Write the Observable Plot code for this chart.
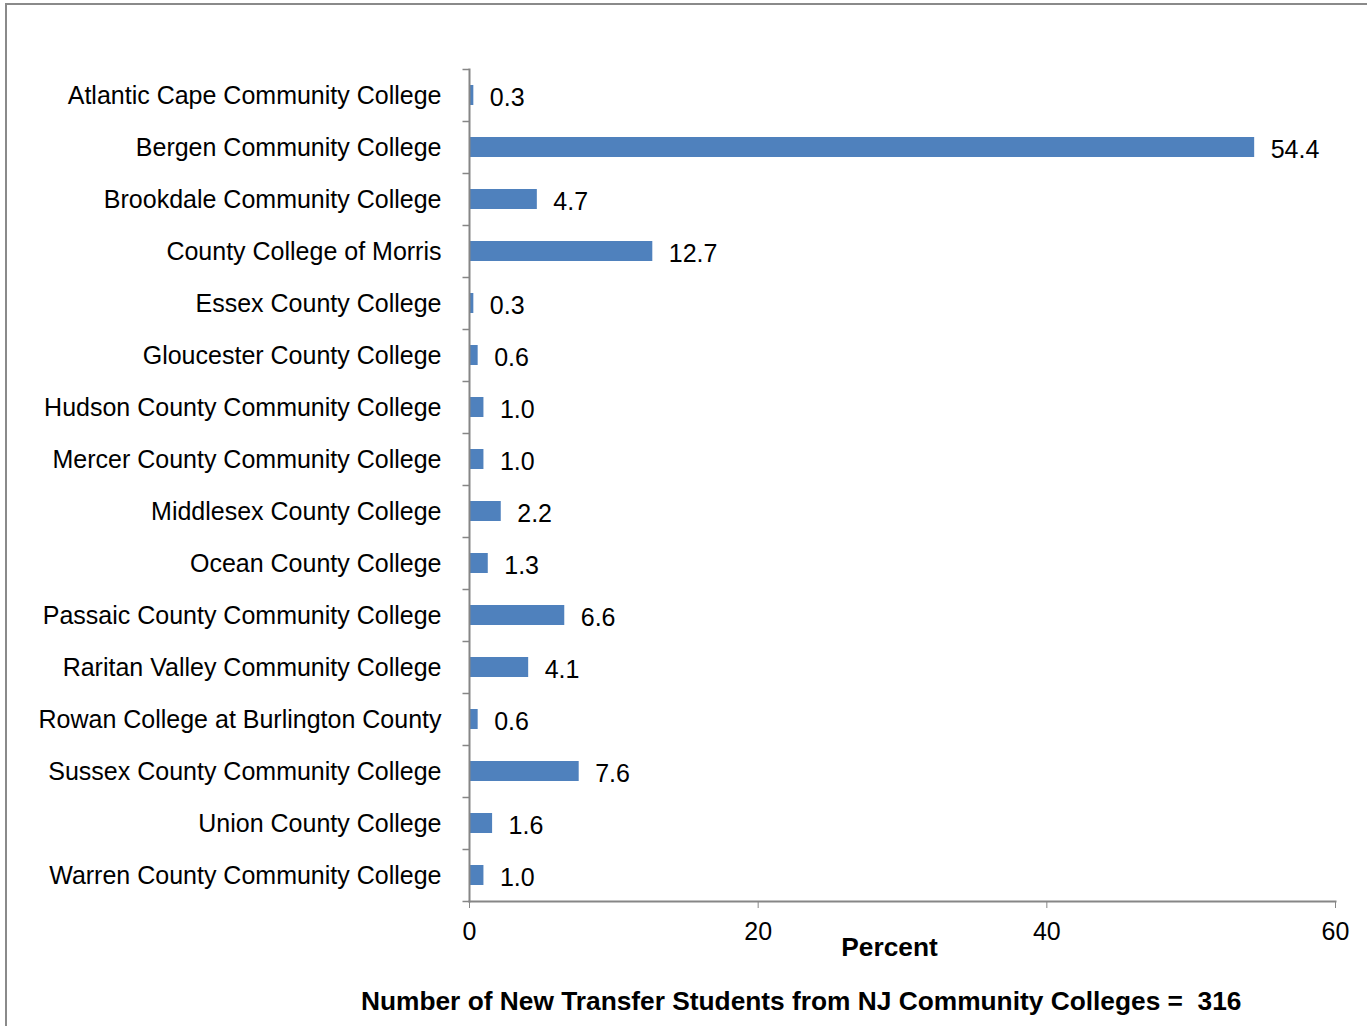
<!DOCTYPE html>
<html>
<head>
<meta charset="utf-8">
<script src="https://cdn.jsdelivr.net/npm/d3@7"></script>
<script src="https://cdn.jsdelivr.net/npm/@observablehq/plot@0.6"></script>
<style>
  html, body { margin: 0; padding: 0; background: #fff; overflow: hidden; width: 1367px; height: 1026px; }
  #frame { position: absolute; left: 5px; top: 3px; width: 1500px; height: 1200px; border-left: 2px solid #8a8a8a; border-top: 2px solid #8a8a8a; }
  #chart { position: absolute; left: 0; top: 0; }
  #caption { position: absolute; left: 0; top: 986px; width: 1367px; padding-left: 361px; box-sizing: border-box; line-height: 30px;
    font-family: "Liberation Sans", Arial, sans-serif; font-weight: bold; font-size: 26.3px; white-space: pre; color: #000; }
</style>
</head>
<body>
<div id="frame"></div>
<div id="chart"></div>
<div id="caption">Number of New Transfer Students from NJ Community Colleges =  316</div>
<script>
const colleges = [
  "Atlantic Cape Community College",
  "Bergen Community College",
  "Brookdale Community College",
  "County College of Morris",
  "Essex County College",
  "Gloucester County College",
  "Hudson County Community College",
  "Mercer County Community College",
  "Middlesex County College",
  "Ocean County College",
  "Passaic County Community College",
  "Raritan Valley Community College",
  "Rowan College at Burlington County",
  "Sussex County Community College",
  "Union County College",
  "Warren County Community College"
];
const percents = [0.3, 54.4, 4.7, 12.7, 0.3, 0.6, 1.0, 1.0, 2.2, 1.3, 6.6, 4.1, 0.6, 7.6, 1.6, 1.0];
const xTicks = [0, 20, 40, 60];
const axisTitle = "Percent";

const data = colleges.map((c, i) => ({college: c, value: percents[i]}));

const W = 1367, H = 970, mt = 69, mb = 69, ml = 469, mr = 32;
const step = (H - mt - mb) / colleges.length;
const axisColor = "#868686";

const chart = Plot.plot({
  width: W,
  height: H,
  marginTop: mt,
  marginBottom: mb,
  marginLeft: ml,
  marginRight: mr,
  style: {fontFamily: "'Liberation Sans', Arial, sans-serif", fontSize: "25px", color: "#000", background: "transparent"},
  x: {domain: [0, 60]},
  y: {domain: colleges, padding: 0, round: false},
  marks: [
    Plot.barX(data, {y: "college", x: "value", fill: "#4F81BD", insetTop: 16, insetBottom: 16}),
    Plot.text(data, {y: "college", x: "value", text: d => d.value.toFixed(1), textAnchor: "start", dx: 16, dy: 2, fill: "#000", fontSize: 25}),
    Plot.ruleY(colleges, {y: d => d, x1: -0.45, x2: 0, dy: -step / 2, stroke: axisColor, strokeWidth: 1.5}),
    Plot.ruleY([colleges[colleges.length - 1]], {y: d => d, x1: -0.45, x2: 0, dy: step / 2, stroke: axisColor, strokeWidth: 1.5}),
    Plot.frame({anchor: "left", stroke: axisColor, strokeWidth: 2}),
    Plot.frame({anchor: "bottom", stroke: axisColor, strokeWidth: 2}),
    Plot.axisY({tickSize: 0, tickPadding: 28, label: null, fill: "#000", fontSize: 25}),
    Plot.axisX({ticks: xTicks, tickSize: 7, tickPadding: 14, label: null, stroke: axisColor, fill: "#000", fontSize: 25, tickFormat: d => String(d)}),
    Plot.text([axisTitle], {frameAnchor: "bottom", dx: -13, dy: 54, text: d => d, fontWeight: "bold", fontSize: 26.3, fill: "#000"})
  ]
});
document.getElementById("chart").appendChild(chart);
</script>
</body>
</html>
